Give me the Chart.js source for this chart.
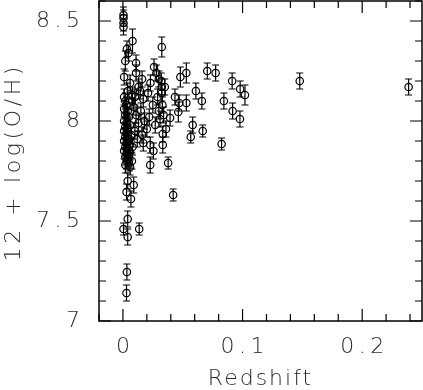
<!DOCTYPE html>
<html>
<head>
<meta charset="utf-8">
<script src="https://cdn.jsdelivr.net/npm/chart.js@4"></script>
<style>
  html, body { margin: 0; padding: 0; background: #fff; }
  #wrap { width: 423px; height: 390px; position: relative; }
</style>
</head>
<body>
<div id="wrap"><canvas id="chart"></canvas></div>
<script>
'use strict';

/* ── Data ────────────────────────────────────────────── */
const redshift = [
  0.0005, 0.0005, 0.0005, 0.0005, 0.008, 0.0325, 0.0033, 0.0047, 0.002, 0.011,
  0.001, 0.011, 0.016, 0.026, 0.028, 0.030, 0.032, 0.023, 0.048, 0.053,
  0.0435, 0.047, 0.053, 0.061, 0.066, 0.0705, 0.0775, 0.0913, 0.098, 0.102,
  0.0844, 0.0917, 0.0978, 0.0394, 0.0463, 0.0583, 0.0667, 0.0567, 0.0825, 0.1478,
  0.2388, 0.0333, 0.0333, 0.0255, 0.0228, 0.0378, 0.042, 0.004, 0.009, 0.003,
  0.0067, 0.004, 0.0005, 0.004, 0.0136, 0.0033, 0.003, 0.0325, 0.0325, 0.0144,
  0.010, 0.0075, 0.017, 0.0228, 0.006, 0.0075, 0.006,
  0.001, 0.002, 0.003, 0.001, 0.004, 0.002, 0.005, 0.001, 0.003, 0.006,
  0.002, 0.004, 0.001, 0.003, 0.007, 0.002, 0.005, 0.001, 0.003, 0.006,
  0.002, 0.004, 0.001, 0.003, 0.005, 0.002, 0.004, 0.003, 0.005, 0.002,
  0.009, 0.011, 0.013, 0.010, 0.012, 0.008, 0.015, 0.018, 0.020, 0.016,
  0.022, 0.025, 0.027, 0.030, 0.029, 0.033, 0.031, 0.017, 0.021, 0.013,
  0.006, 0.004, 0.008, 0.035, 0.034, 0.036
];
const logOH = [
  8.53, 8.515, 8.49, 8.47, 8.40, 8.37, 8.36, 8.34, 8.30, 8.29,
  8.22, 8.24, 8.21, 8.27, 8.24, 8.21, 8.20, 8.19, 8.22, 8.24,
  8.12, 8.09, 8.09, 8.15, 8.10, 8.25, 8.24, 8.20, 8.16, 8.13,
  8.10, 8.05, 8.01, 8.015, 8.045, 7.98, 7.95, 7.92, 7.885, 8.20,
  8.17, 7.935, 7.88, 7.85, 7.78, 7.79, 7.63, 7.70, 7.68, 7.645,
  7.61, 7.51, 7.46, 7.42, 7.46, 7.245, 7.14, 8.17, 8.14, 8.15,
  8.12, 8.10, 7.89, 7.88, 7.845, 7.80, 7.77,
  8.12, 8.10, 8.08, 8.06, 8.05, 8.03, 8.02, 8.00, 7.99, 7.98,
  7.97, 7.96, 7.95, 7.94, 7.93, 7.92, 7.91, 7.90, 7.89, 7.88,
  7.87, 7.86, 7.85, 7.84, 7.83, 7.82, 7.81, 7.80, 7.79, 7.78,
  8.07, 8.03, 7.99, 7.95, 7.91, 7.87, 8.05, 8.00, 7.96, 7.93,
  8.02, 8.08, 7.98, 8.05, 8.12, 8.08, 8.01, 8.11, 8.14, 8.17,
  8.19, 8.15, 8.13, 8.17, 8.03, 7.96
];
const logOHErr = [
  0.04, 0.04, 0.04, 0.04, 0.06, 0.05, 0.04, 0.04, 0.05, 0.04,
  0.04, 0.04, 0.04, 0.04, 0.04, 0.04, 0.04, 0.04, 0.05, 0.05,
  0.04, 0.04, 0.04, 0.04, 0.04, 0.04, 0.04, 0.04, 0.04, 0.05,
  0.04, 0.04, 0.04, 0.04, 0.05, 0.04, 0.03, 0.03, 0.03, 0.04,
  0.04, 0.04, 0.04, 0.04, 0.04, 0.03, 0.03, 0.04, 0.04, 0.04,
  0.04, 0.04, 0.03, 0.04, 0.03, 0.04, 0.04, 0.04, 0.04, 0.04,
  0.04, 0.04, 0.04, 0.04, 0.04, 0.04, 0.04,
  0.04, 0.04, 0.04, 0.04, 0.04, 0.04, 0.04, 0.04, 0.04, 0.04,
  0.04, 0.04, 0.04, 0.04, 0.04, 0.04, 0.04, 0.04, 0.04, 0.04,
  0.04, 0.04, 0.04, 0.04, 0.04, 0.04, 0.04, 0.04, 0.04, 0.04,
  0.04, 0.04, 0.04, 0.04, 0.04, 0.04, 0.04, 0.04, 0.04, 0.04,
  0.04, 0.04, 0.04, 0.04, 0.04, 0.04, 0.04, 0.04, 0.04, 0.04,
  0.04, 0.04, 0.04, 0.04, 0.04, 0.04
];

const X_TICKS = [0, 0.1, 0.2];
const Y_TICKS = [7, 7.5, 8, 8.5];
const X_MINOR = 0.02;
const Y_MINOR = 0.1;
const X_TITLE = 'Redshift';
const Y_TITLE = '12 + log(O/H)';

const INK = '#000';
const TEXT = '#2a2a2a';
const FONT = '"DejaVu Sans", Verdana, sans-serif';
const TXT_FONT = { family: FONT, size: 22, weight: '200' };
const TICK_GAP = 4.5;   // letter spacing of tick labels, px

/* ── Plugins ─────────────────────────────────────────── */
// wide, thin lettering like the original plotting package
const spacing = {
  id: 'spacing',
  beforeDraw(chart) { chart.ctx.letterSpacing = TICK_GAP + 'px'; }
};

function spacedText(ctx, text, cx, cy, gap, rotate) {
  ctx.save();
  ctx.translate(cx, cy);
  if (rotate) ctx.rotate(-Math.PI / 2);
  ctx.font = `${TXT_FONT.weight} ${TXT_FONT.size}px ${FONT}`;
  ctx.fillStyle = TEXT;
  ctx.letterSpacing = '0px';
  const w = ctx.measureText(text).width + gap * (text.length - 1);
  ctx.letterSpacing = gap + 'px';
  ctx.textAlign = 'left';
  ctx.textBaseline = 'middle';
  ctx.fillText(text, -w / 2, 0);
  ctx.restore();
}

const titles = {
  id: 'titles',
  afterDraw(chart) {
    const { ctx, chartArea: a } = chart;
    spacedText(ctx, X_TITLE, (a.left + a.right) / 2 - 1, 379, 2, false);
    spacedText(ctx, Y_TITLE, 14, 164, 3.6, true);
  }
};

const errorBars = {
  id: 'errorBars',
  beforeDatasetsDraw(chart) {
    const { ctx, scales: { x, y } } = chart;
    ctx.save();
    ctx.strokeStyle = INK;
    ctx.lineWidth = 1.2;
    redshift.forEach((z, i) => {
      const px = x.getPixelForValue(z);
      const top = y.getPixelForValue(logOH[i] + logOHErr[i]);
      const bot = y.getPixelForValue(logOH[i] - logOHErr[i]);
      ctx.beginPath();
      ctx.moveTo(px, top); ctx.lineTo(px, bot);
      ctx.moveTo(px - 3.5, top); ctx.lineTo(px + 3.5, top);
      ctx.moveTo(px - 3.5, bot); ctx.lineTo(px + 3.5, bot);
      ctx.stroke();
    });
    ctx.restore();
  }
};

const frame = {
  id: 'frame',
  afterDraw(chart) {
    const { ctx, chartArea: a, scales: { x, y } } = chart;
    ctx.save();
    ctx.strokeStyle = INK;
    ctx.lineWidth = 1.5;
    ctx.strokeRect(a.left, a.top, a.right - a.left, a.bottom - a.top);

    ctx.lineWidth = 1.2;
    ctx.beginPath();
    // x ticks, bottom and top
    for (let v = x.min; v <= x.max + 1e-9; v += X_MINOR) {
      const r = Math.round(v * 100) / 100;
      const len = X_TICKS.some(t => Math.abs(t - r) < 1e-6) ? 12 : 7;
      const px = x.getPixelForValue(r);
      ctx.moveTo(px, a.bottom); ctx.lineTo(px, a.bottom - len);
      ctx.moveTo(px, a.top);    ctx.lineTo(px, a.top + len);
    }
    // y ticks, left and right
    for (let v = y.min; v <= y.max + 1e-9; v += Y_MINOR) {
      const r = Math.round(v * 10) / 10;
      const len = Y_TICKS.some(t => Math.abs(t - r) < 1e-6) ? 12 : 7;
      const py = y.getPixelForValue(r);
      ctx.moveTo(a.left, py);  ctx.lineTo(a.left + len, py);
      ctx.moveTo(a.right, py); ctx.lineTo(a.right - len, py);
    }
    ctx.stroke();
    ctx.restore();
  }
};

/* ── Chart ───────────────────────────────────────────── */
new Chart(document.getElementById('chart').getContext('2d'), {
  type: 'scatter',
  data: {
    datasets: [{
      data: redshift.map((z, i) => ({ x: z, y: logOH[i] })),
      pointStyle: 'circle',
      pointRadius: 3.7,
      pointHoverRadius: 3.7,
      backgroundColor: 'rgba(0,0,0,0)',
      borderColor: INK,
      borderWidth: 1.2,
    }]
  },
  options: {
    responsive: true,
    maintainAspectRatio: false,
    animation: false,
    layout: { autoPadding: false, padding: { top: 1, right: 1, left: 0, bottom: 0 } },
    plugins: { legend: { display: false }, tooltip: { enabled: false } },
    scales: {
      x: {
        type: 'linear',
        min: -0.02,
        max: 0.25,
        afterBuildTicks: s => { s.ticks = X_TICKS.map(v => ({ value: v })); },
        afterFit: s => {
          s.height = 69;
          s.paddingLeft = 0; s.paddingRight = 0;
        },
        grid: { display: false, drawTicks: false },
        border: { display: false },
        ticks: {
          padding: 13,
          labelOffset: TICK_GAP / 2,
          color: TEXT,
          font: TXT_FONT,
          maxRotation: 0,
          callback: v => String(v)
        },
        title: { display: false }
      },
      y: {
        type: 'linear',
        min: 7,
        max: 8.6,
        afterBuildTicks: s => { s.ticks = Y_TICKS.map(v => ({ value: v })); },
        afterFit: s => {
          s.width = 99;
          s.paddingTop = 0; s.paddingBottom = 0;
        },
        grid: { display: false, drawTicks: false },
        border: { display: false },
        ticks: {
          padding: 19 - TICK_GAP,
          color: TEXT,
          font: TXT_FONT,
          callback: v => String(v)
        },
        title: { display: false }
      }
    }
  },
  plugins: [spacing, errorBars, frame, titles]
});
</script>
</body>
</html>
